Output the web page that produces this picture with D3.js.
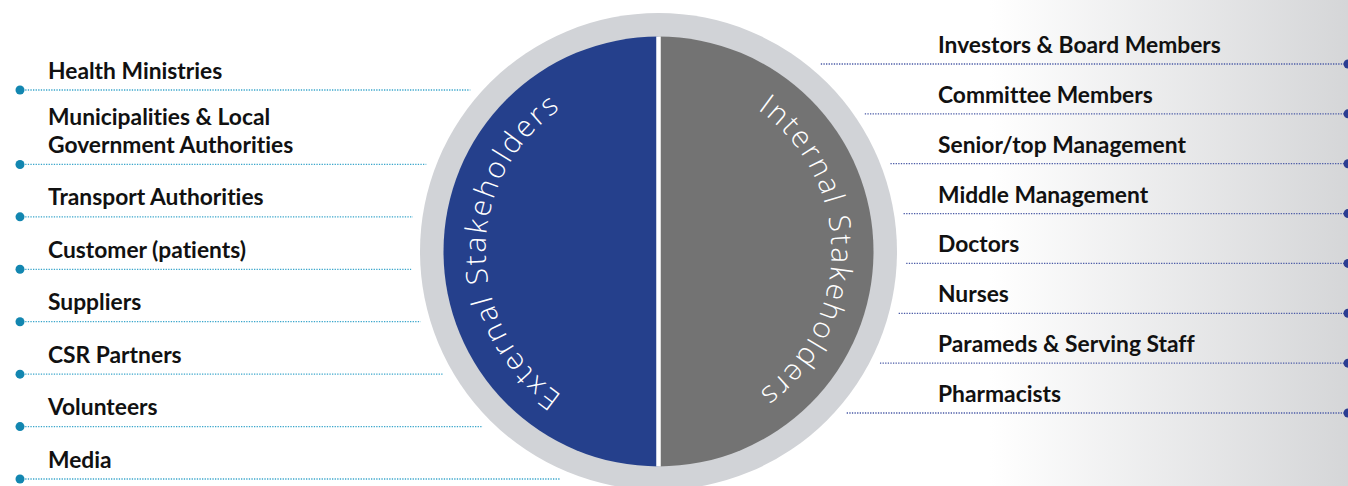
<!DOCTYPE html>
<html>
<head>
<meta charset="utf-8">
<script src="https://cdn.jsdelivr.net/npm/d3@7"></script>
<style>
  html, body { margin: 0; padding: 0; background: #fff; }
  svg { display: block; }
  text.lbl { font-variant-ligatures: none; font-feature-settings: "liga" 0, "clig" 0; }
</style>
</head>
<body>
<svg id="chart" width="1348" height="486"></svg>
<script>
// ---- data ----
const groups = ["Internal Stakeholders", "External Stakeholders"];
const leftLabels = [
  ["Health Ministries"],
  ["Municipalities & Local", "Government Authorities"],
  ["Transport Authorities"],
  ["Customer (patients)"],
  ["Suppliers"],
  ["CSR Partners"],
  ["Volunteers"],
  ["Media"]
];
const rightLabels = [
  ["Investors & Board Members"],
  ["Committee Members"],
  ["Senior/top Management"],
  ["Middle Management"],
  ["Doctors"],
  ["Nurses"],
  ["Parameds & Serving Staff"],
  ["Pharmacists"]
];
const groupCounts = [rightLabels.length, leftLabels.length];

// ---- layout ----
const W = 1348, H = 486;
const cx = 658.5, cy = 251.5;
const rRing = 238.5, rPie = 215, rText = 173, rLineEnd = 248;
const svg = d3.select("#chart");

const defs = svg.append("defs");
const grad = defs.append("linearGradient").attr("id", "bg").attr("x1", 0).attr("x2", 1).attr("y1", 0).attr("y2", 0);
grad.append("stop").attr("offset", 0).attr("stop-color", "#ffffff");
grad.append("stop").attr("offset", 1).attr("stop-color", "#d5d6d8");
svg.append("rect").attr("x", 990).attr("y", 0).attr("width", W - 990).attr("height", H).attr("fill", "url(#bg)");

// ring
svg.append("circle").attr("cx", cx).attr("cy", cy).attr("r", rRing).attr("fill", "#d1d3d7");

const pie = d3.pie().sort(null).value(d => d);
const arcs = pie(groupCounts);
const arcGen = d3.arc().innerRadius(0).outerRadius(rPie);
const colors = ["#737373", "#25408c"];
const g = svg.append("g").attr("transform", `translate(${cx},${cy})`);
g.selectAll("path.slice").data(arcs).join("path")
  .attr("class", "slice")
  .attr("d", arcGen)
  .attr("fill", (d, i) => colors[i]);
g.append("line").attr("x1", 0).attr("x2", 0).attr("y1", -rPie).attr("y2", rPie)
  .attr("stroke", "#ffffff").attr("stroke-width", 4.5);

// curved group titles
function arcPath(r, a0, a1) {
  const p0 = [r * Math.sin(a0), -r * Math.cos(a0)];
  const p1 = [r * Math.sin(a1), -r * Math.cos(a1)];
  return `M${p0[0]},${p0[1]} A${r},${r} 0 0 1 ${p1[0]},${p1[1]}`;
}
arcs.forEach((d, i) => {
  defs.append("path").attr("id", "tp" + i)
    .attr("d", arcPath(rText, d.startAngle + 0.001, d.endAngle - 0.001))
    .attr("transform", `translate(${cx},${cy})`);
  svg.append("text")
    .attr("fill", "#ffffff")
    .attr("font-family", "'Open Sans', sans-serif")
    .attr("font-weight", 300)
    .attr("font-size", 29.5)
    .attr("letter-spacing", 2.4)
    .append("textPath")
    .attr("href", "#tp" + i)
    .attr("startOffset", "50%")
    .attr("text-anchor", "middle")
    .text(groups[i]);
});

// left labels
let slot = 0;
const leftSlots = leftLabels.map((lines, i) => { slot += (i === 0 ? 0 : 1) + 0.42 * (lines.length - 1); return slot; });
const yLeft = d3.scaleLinear().domain([0, d3.max(leftSlots)]).range([90, 479]);
const yRight = d3.scaleLinear().domain([0, rightLabels.length - 1]).range([64, 413]);

const labelFont = "Lato, sans-serif";
const labelSize = 22.8;
const lineStep = 27.5;

function addLabel(sel, x, yBase, lines) {
  lines.forEach((s, k) => {
    sel.append("text").attr("class", "lbl")
      .attr("x", x).attr("y", yBase - lineStep * (lines.length - 1 - k))
      .attr("font-family", labelFont).attr("font-weight", 700).attr("font-size", labelSize)
      .attr("fill", "#111").text(s);
  });
}

const lg = svg.append("g");
leftLabels.forEach((lines, i) => {
  const y = yLeft(leftSlots[i]);
  const dy = y - cy;
  const xEnd = cx - Math.sqrt(rLineEnd * rLineEnd - dy * dy);
  lg.append("line").attr("x1", 20).attr("x2", xEnd).attr("y1", y).attr("y2", y)
    .attr("stroke", "#3aa6cb").attr("stroke-width", 1.3).attr("stroke-dasharray", "1.3,1.3");
  lg.append("circle").attr("cx", 20).attr("cy", y).attr("r", 4.5).attr("fill", "#1286b0");
  addLabel(lg, 48, y - 11.5, lines);
});

const rg = svg.append("g");
rightLabels.forEach((lines, i) => {
  const y = yRight(i);
  const dy = y - cy;
  const xStart = cx + Math.sqrt(rLineEnd * rLineEnd - dy * dy);
  rg.append("line").attr("x1", xStart).attr("x2", W).attr("y1", y).attr("y2", y)
    .attr("stroke", "#4a5aa6").attr("stroke-width", 1.3).attr("stroke-dasharray", "1.3,1.3");
  rg.append("circle").attr("cx", W).attr("cy", y).attr("r", 4.5).attr("fill", "#2b3d92");
  addLabel(rg, 938, y - 11, lines);
});
</script>
</body>
</html>
